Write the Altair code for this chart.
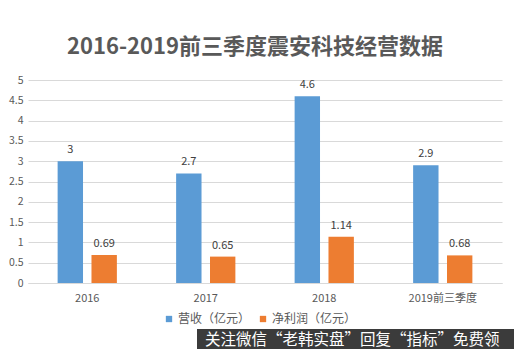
import altair as alt
import pandas as pd

categories = ["2016", "2017", "2018", "2019前三季度"]
series = ["营收（亿元）", "净利润（亿元）"]
revenue = [3, 2.7, 4.6, 2.9]
profit = [0.69, 0.65, 1.14, 0.68]
y_ticks = [0, 0.5, 1, 1.5, 2, 2.5, 3, 3.5, 4, 4.5, 5]
title_text = "2016-2019前三季度震安科技经营数据"
watermark = "关注微信“老韩实盘”回复“指标”免费领"

rows = []
for c, r, p in zip(categories, revenue, profit):
    rows.append({"cat": c, "series": series[0], "value": r})
    rows.append({"cat": c, "series": series[1], "value": p})
df = pd.DataFrame(rows)

FONT = "Noto Sans CJK SC"
GRAY = "#595959"

x = alt.X("cat:N", sort=categories, title=None,
          scale=alt.Scale(paddingInner=0.5, paddingOuter=0.25),
          axis=alt.Axis(labelAngle=0, labelFontSize=11, labelColor=GRAY, labelFont=FONT,
                        ticks=False, domainColor="#d9d9d9", labelPadding=9))
xo = alt.XOffset("series:N", sort=series, scale=alt.Scale(paddingInner=0.25, paddingOuter=0))
y = alt.Y("value:Q", title=None,
          scale=alt.Scale(domain=[0, 5]),
          axis=alt.Axis(values=y_ticks, labelFontSize=10.5, labelColor=GRAY, labelFont=FONT,
                        ticks=False, domain=False, gridColor="#d9d9d9", labelPadding=5,
                        labelExpr="datum.value"))
color = alt.Color("series:N", sort=series,
                  scale=alt.Scale(domain=series, range=["#5B9BD5", "#ED7D31"]),
                  legend=alt.Legend(title=None, orient="none", legendX=135, legendY=233,
                                    direction="horizontal", symbolType="square", symbolSize=40,
                                    symbolStrokeWidth=0, labelFontSize=12, labelColor=GRAY,
                                    labelFont=FONT, columnPadding=6, labelOffset=3))

base = alt.Chart(df)
bars = base.mark_bar().encode(x=x, xOffset=xo, y=y, color=color)
labels = base.mark_text(baseline="bottom", dy=-6, fontSize=11, color="#404040", font=FONT).encode(
    x=x, xOffset=xo, y=y, text=alt.Text("value:Q"))

wm_df = pd.DataFrame({"t": [watermark]})
wm_rect = alt.Chart(wm_df).mark_rect(color="#2a2a2a", opacity=0.92).encode(
    x=alt.value(169), x2=alt.value(500), y=alt.value(249), y2=alt.value(280))
wm_text = alt.Chart(wm_df).mark_text(align="left", baseline="middle", fontSize=15.5,
                                     color="white", font=FONT).encode(
    x=alt.value(177), y=alt.value(260), text="t:N")

chart = alt.layer(bars, labels, wm_rect, wm_text).properties(
    width=474, height=203,
    title=alt.TitleParams(title_text, fontSize=22, font=FONT, fontWeight="bold", color=GRAY,
                          anchor="middle", offset=16, dx=-10),
    autosize=alt.AutoSizeParams(type="none"),
    padding={"left": 20, "top": 72, "right": 12, "bottom": 66},
).configure_view(stroke=None)

chart.save("out.html", embed_options={"renderer": "svg", "actions": False})
